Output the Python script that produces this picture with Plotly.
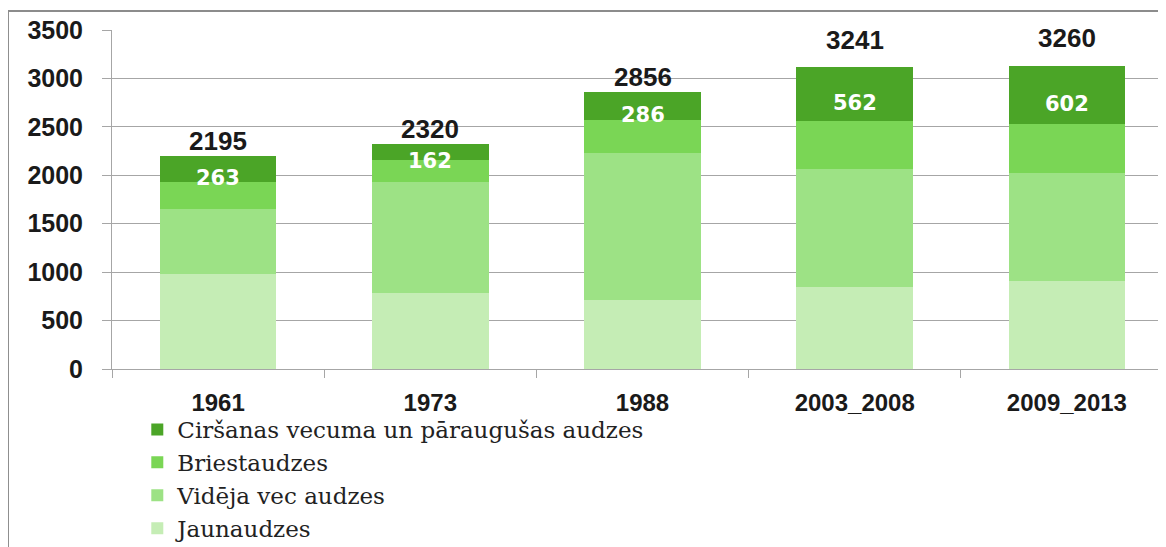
import plotly.graph_objects as go

# age classes of stands, by survey period
periods = ["1961", "1973", "1988", "2003_2008", "2009_2013"]
jaunaudzes = [985, 788, 712, 843, 908]
videja_vec = [667, 1139, 1521, 1219, 1119]
briestaudzes = [280, 231, 337, 497, 502]
cirsanas_vec = [263, 162, 286, 562, 602]
totals = [2195, 2320, 2856, 3241, 3260]

names = ["Jaunaudzes", "Vidēja vec audzes", "Briestaudzes",
         "Ciršanas vecuma un pāraugušas audzes"]
colors = ["#c5edb5", "#9de285", "#7ad655", "#4ba527"]
series = [jaunaudzes, videja_vec, briestaudzes, cirsanas_vec]

fig = go.Figure()
for name, vals, col in zip(names, series, colors):
    fig.add_trace(go.Bar(x=periods, y=vals, name=name,
                         marker=dict(color=col, line=dict(width=0))))

ann = []
# totals above the bars
for i, t in enumerate(totals):
    ann.append(dict(x=i, y=t, text="<b>%d</b>" % t, showarrow=False, yanchor="bottom",
                    font=dict(family="Liberation Sans", size=26, color="#1a1a1a"),
                    yshift=-2))
# value of the top segment, white
for i in range(len(periods)):
    below = jaunaudzes[i] + videja_vec[i] + briestaudzes[i]
    ann.append(dict(x=i, y=below + cirsanas_vec[i] / 2, text="<b>%d</b>" % cirsanas_vec[i],
                    showarrow=False, yshift=-9,
                    font=dict(family="DejaVu Sans", size=21, color="white")))

# page body has an 8px margin, so the figure is sized to fit the window
fig.update_layout(
    barmode="stack", bargap=0.45,
    width=1158, height=539,
    margin=dict(l=104, r=0, t=22, b=178, autoexpand=False),
    plot_bgcolor="white", paper_bgcolor="white",
    annotations=ann,
    showlegend=True,
    legend=dict(traceorder="reversed", x=0.024, y=-0.115, xanchor="left", yanchor="top",
                font=dict(family="DejaVu Serif", size=23, color="#222"),
                bgcolor="rgba(0,0,0,0)"),
    shapes=[
        dict(type="line", xref="paper", yref="paper", x0=-0.0987, x1=-0.0987, y0=-0.6, y1=1.056,
             line=dict(color="#8c8c8c", width=2)),
        dict(type="line", xref="paper", yref="paper", x0=-0.0987, x1=1.1, y0=1.056, y1=1.056,
             line=dict(color="#8c8c8c", width=2)),
    ],
)

fig.update_yaxes(range=[0, 3500], dtick=500, showgrid=True, gridcolor="#a6a6a6", gridwidth=1,
                 showline=True, linecolor="#a6a6a6", linewidth=1,
                 ticks="outside", ticklen=9, tickcolor="#a6a6a6",
                 ticklabelstandoff=14,
                 tickfont=dict(family="Liberation Sans", size=25, color="#1a1a1a"),
                 tickprefix="<b>", ticksuffix="</b>", zeroline=False)
fig.update_xaxes(type="category", range=[-0.5, 4.467], showline=True, linecolor="#a6a6a6",
                 linewidth=1, ticks="outside", ticklen=8, tickcolor="#a6a6a6",
                 tickson="boundaries", ticklabelstandoff=12,
                 tickfont=dict(family="Liberation Sans", size=24, color="#1a1a1a"),
                 tickprefix="<b>", ticksuffix="</b>")

fig.write_html("out.html")
